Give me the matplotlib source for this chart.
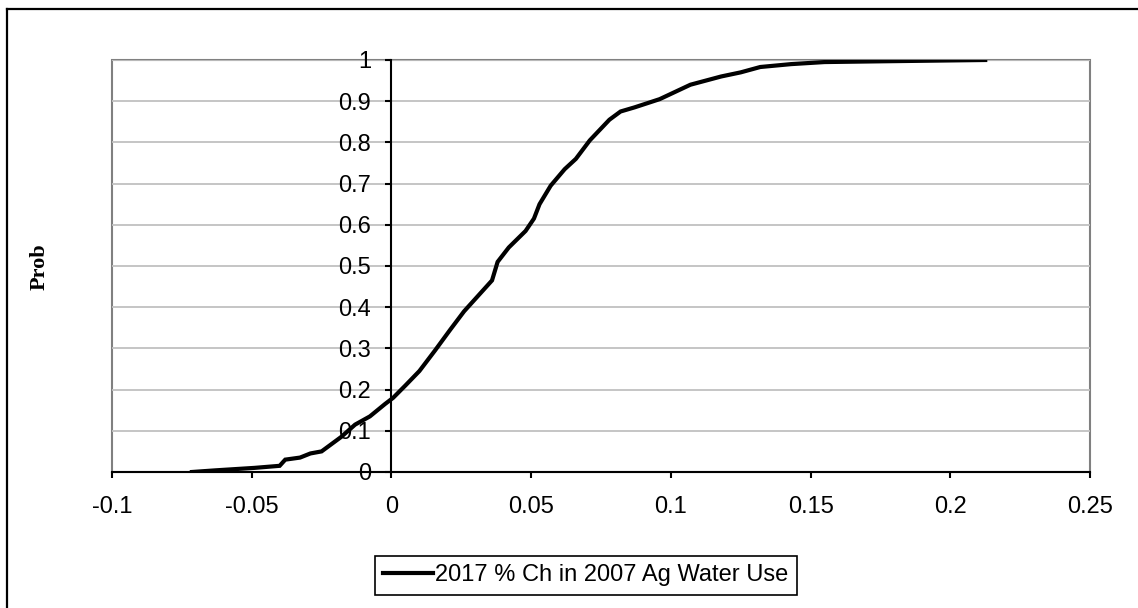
import matplotlib
matplotlib.use("Agg")
import matplotlib.pyplot as plt
from matplotlib.patches import Rectangle
from matplotlib.lines import Line2D

# cumulative distribution
pct_change = [-0.0714, -0.063, -0.049, -0.040, -0.038, -0.0327, -0.029, -0.025,
              -0.022, -0.018, -0.013, -0.0077, -0.0023, 0.0006, 0.005, 0.010,
              0.0156, 0.021, 0.026, 0.032, 0.036, 0.038, 0.042, 0.048, 0.051,
              0.053, 0.057, 0.062, 0.066, 0.071, 0.078, 0.082, 0.087, 0.096,
              0.107, 0.118, 0.125, 0.132, 0.143, 0.155, 0.177, 0.2125]
prob = [0.0, 0.004, 0.01, 0.015, 0.03, 0.035, 0.045, 0.05,
        0.065, 0.085, 0.115, 0.135, 0.165, 0.18, 0.21, 0.245,
        0.295, 0.345, 0.39, 0.435, 0.465, 0.51, 0.545, 0.585, 0.615,
        0.65, 0.695, 0.735, 0.76, 0.805, 0.855, 0.875, 0.885, 0.905,
        0.94, 0.96, 0.97, 0.983, 0.99, 0.995, 0.997, 1.0]
series_name = "2017 % Ch in 2007 Ag Water Use"
x_ticks = [-0.1, -0.05, 0, 0.05, 0.1, 0.15, 0.2, 0.25]
x_labels = ["-0.1", "-0.05", "0", "0.05", "0.1", "0.15", "0.2", "0.25"]
y_ticks = [0, 0.1, 0.2, 0.3, 0.4, 0.5, 0.6, 0.7, 0.8, 0.9, 1]
y_labels = ["0", "0.1", "0.2", "0.3", "0.4", "0.5", "0.6", "0.7", "0.8", "0.9", "1"]

plt.rcParams['font.family'] = ['Liberation Sans', 'DejaVu Sans']
TextSize = 17

fig = plt.figure(figsize=(11.38, 6.08), dpi=100)
ax = fig.add_axes([112/1138, 1-472/608, 978/1138, 412/608])

ax.plot(pct_change, prob, color='black', lw=3, label=series_name, zorder=3,
        solid_joinstyle='miter')

ax.set_xlim(-0.1, 0.25)
ax.set_ylim(0, 1)
ax.set_xticks(x_ticks)
ax.set_xticklabels(x_labels)
ax.set_yticks(y_ticks)
ax.set_yticklabels(y_labels)
ax.yaxis.grid(True, color='#c0c0c0', lw=1.3)
ax.set_axisbelow(True)

ax.spines['left'].set_position(('data', 0))
ax.spines['left'].set_color('black')
ax.spines['left'].set_linewidth(1.5)
ax.spines['bottom'].set_linewidth(1.5)
ax.spines['top'].set_visible(False)
ax.spines['right'].set_visible(False)
# grey plot-area frame
ax.add_patch(Rectangle((0, 0), 1, 1, transform=ax.transAxes, fill=False,
                       edgecolor='#808080', lw=1.5, zorder=0.5, clip_on=False))

ax.tick_params(axis='y', direction='out', length=4.5, width=1.5, pad=10,
               labelsize=TextSize)
ax.tick_params(axis='x', direction='out', length=4.5, width=1.5, pad=13,
               labelsize=TextSize)

fig.text(40/1138, 1-267/608, "Prob", rotation=90, ha='center', va='center',
         family='Liberation Serif', weight='bold', size=16)

leg = ax.legend(loc='center', bbox_to_anchor=(586/1138, 1-575.5/608),
                bbox_transform=fig.transFigure, fontsize=TextSize,
                handlelength=2.1, handletextpad=0.1, borderpad=0.35,
                fancybox=False, framealpha=1, edgecolor='black')
leg.get_frame().set_linewidth(1.2)

# outer chart border: only left and top edges fall inside the picture
bx, by = 6.5/1138, 1-8.5/608
fig.lines.append(Line2D([bx, bx], [0, by], transform=fig.transFigure,
                        color='black', lw=1.6))
fig.lines.append(Line2D([bx, 1], [by, by], transform=fig.transFigure,
                        color='black', lw=1.6))

fig.savefig("out.png", dpi=100)
